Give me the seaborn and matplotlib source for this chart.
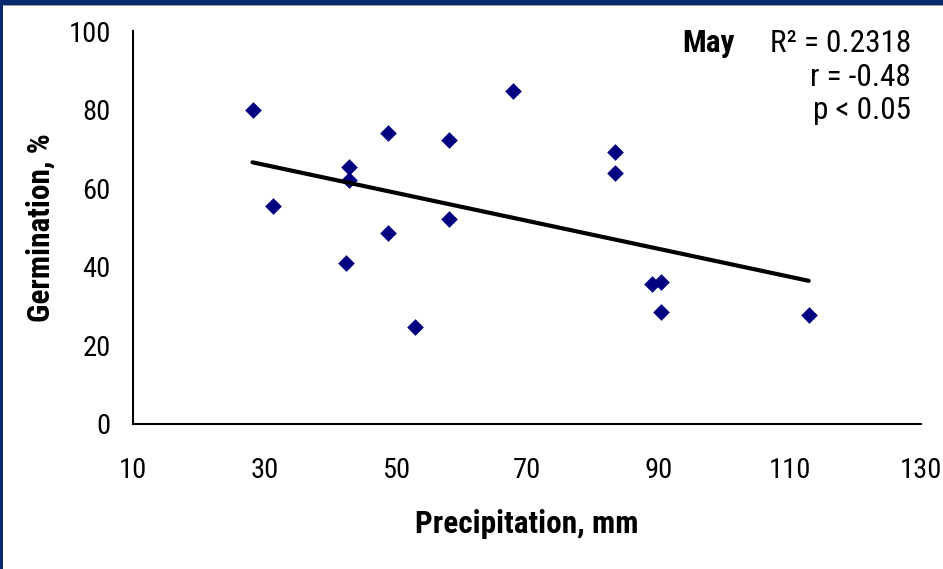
import matplotlib
matplotlib.use("Agg")
import matplotlib.pyplot as plt
from matplotlib.patches import Rectangle
import numpy as np
import pandas as pd
import seaborn as sns

# May precipitation (mm) against seed germination (%)
precipitation = [28.2, 31.3, 42.9, 42.9, 42.5, 48.9, 48.9, 58.1, 58.1,
                 52.9, 67.8, 83.4, 83.4, 89.1, 90.4, 90.4, 112.9]
germination = [79.9, 55.5, 65.3, 62.1, 40.9, 74.0, 48.6, 72.3, 52.1,
               24.8, 84.7, 69.2, 63.9, 35.5, 36.1, 28.4, 27.7]

x_ticks = [10, 30, 50, 70, 90, 110, 130]
y_ticks = [0, 20, 40, 60, 80, 100]

month = "May"
stats_lines = ["R² = 0.2318", "r = -0.48", "p < 0.05"]

df = pd.DataFrame({"Precipitation": precipitation, "Germination": germination})

sns.set_theme(style="white")
plt.rcParams["font.family"] = ["Roboto Condensed", "Liberation Sans", "DejaVu Sans"]

navy = "#000080"
frame = "#0a2a6e"
tick_fs = 20.5
label_fs = 22.5
note_fs = 22.5

fig = plt.figure(figsize=(9.43, 5.69), dpi=100)
ax = fig.add_axes([133 / 943, 1 - 424 / 569, (921 - 133) / 943, (424 - 31) / 569])

sns.regplot(data=df, x="Precipitation", y="Germination", ax=ax, ci=None,
            truncate=True, marker="D",
            scatter_kws={"s": 72, "color": navy, "alpha": 1, "linewidths": 0, "zorder": 2},
            line_kws={"color": "black", "lw": 3, "zorder": 3})

ax.set_xlim(10, 130)
ax.set_ylim(0, 100)
ax.set_xticks(x_ticks)
ax.set_yticks(y_ticks)

for side in ("top", "right"):
    ax.spines[side].set_visible(False)
for side in ("left", "bottom"):
    ax.spines[side].set_color("black")
    ax.spines[side].set_linewidth(1.5)

ax.tick_params(axis="both", direction="in", length=4, width=1.5, color="black",
               labelsize=tick_fs, labelcolor="black")
ax.tick_params(axis="x", pad=24, length=5)
ax.tick_params(axis="y", pad=16)

ax.set_xlabel("Precipitation, mm", fontsize=label_fs, fontweight="bold",
              color="black", labelpad=18)
ax.set_ylabel("Germination, %", fontsize=label_fs, fontweight="bold",
              color="black", labelpad=9)

# Month tag and regression statistics
fig.text(735 / 943, 1 - 52 / 569, month, fontsize=note_fs, fontweight="bold",
         ha="right", va="baseline", color="black")
for i, line in enumerate(stats_lines):
    fig.text(911 / 943, 1 - (52 + 33.5 * i) / 569, line, fontsize=note_fs,
             ha="right", va="baseline", color="black")

# Navy frame along the top and left edges
fig.patches.append(Rectangle((0, 1 - 5 / 569), 1, 5 / 569, transform=fig.transFigure,
                             facecolor=frame, edgecolor="none", zorder=10))
fig.patches.append(Rectangle((0, 1 - 6 / 569), 1, 1 / 569, transform=fig.transFigure,
                             facecolor="#9a9a9a", edgecolor="none", zorder=10))
fig.patches.append(Rectangle((0, 0), 3 / 943, 1, transform=fig.transFigure,
                             facecolor=frame, edgecolor="none", zorder=11))

fig.savefig("out.png", dpi=100, facecolor="white")
